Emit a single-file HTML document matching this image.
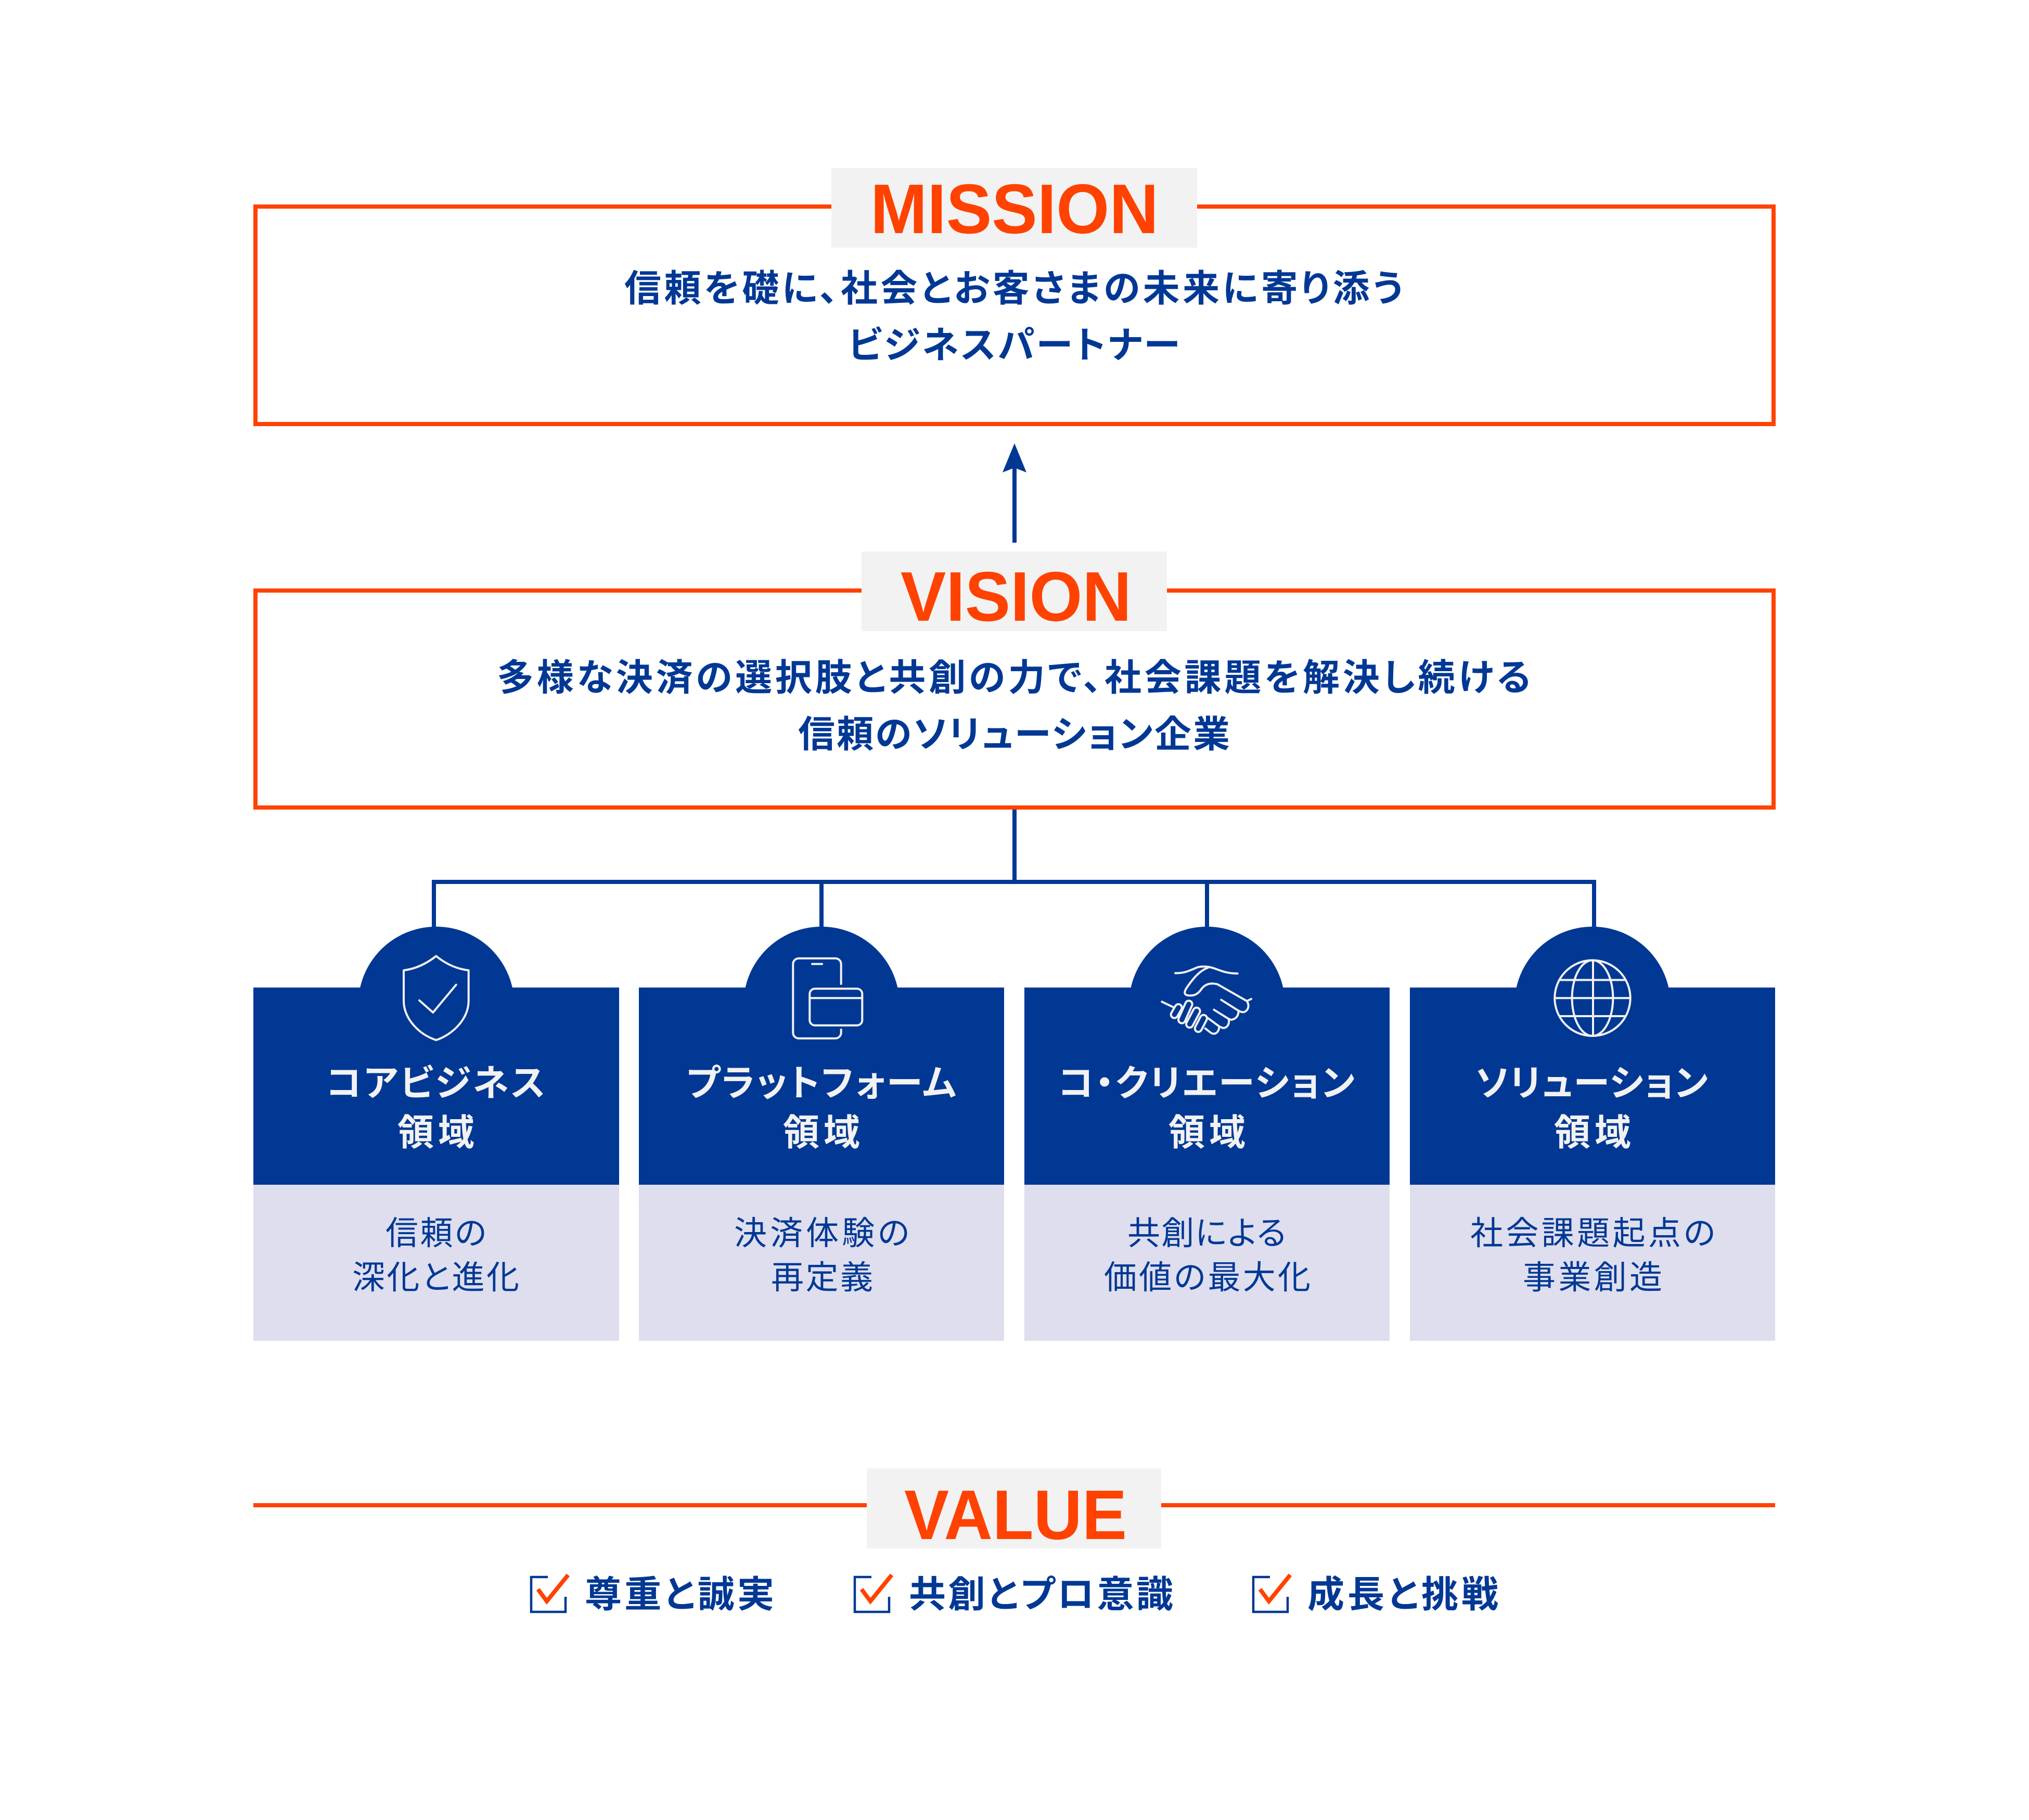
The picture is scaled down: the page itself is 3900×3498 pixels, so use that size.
<!DOCTYPE html>
<html lang="ja"><head><meta charset="utf-8"><title>MISSION VISION VALUE</title>
<style>
html,body{margin:0;padding:0;background:#fff}
svg{display:block}
text{font-family:"Liberation Sans","Noto Sans CJK JP",sans-serif}
.h{font-family:"Liberation Sans",sans-serif;font-weight:700;font-size:135px;fill:#ff4200}
.b{font-weight:700;font-size:71px;fill:#003894;font-feature-settings:"palt"}
.w{font-weight:700;font-size:70px;fill:#f2f2f2;font-feature-settings:"palt"}
.l{font-weight:400;font-size:63px;fill:#003894;font-feature-settings:"palt"}
.ic{fill:none;stroke:#f2f2f2;stroke-width:4;stroke-linecap:round;stroke-linejoin:round}
</style></head><body>
<svg xmlns="http://www.w3.org/2000/svg" width="3900" height="3498" viewBox="0 0 3900 3498">
<rect width="3900" height="3498" fill="#fff"/>

<!-- MISSION -->
<rect x="491" y="397" width="2918" height="418" fill="none" stroke="#ff4200" stroke-width="8"/>
<rect x="1598" y="323" width="703" height="153" fill="#f2f2f2"/>
<text class="h" x="1673" y="448" textLength="554" lengthAdjust="spacingAndGlyphs">MISSION</text>
<text class="b" x="1200" y="579" textLength="1497" lengthAdjust="spacing">信頼を礎に、社会とお客さまの未来に寄り添う</text>
<text class="b" x="1630" y="688" textLength="638" lengthAdjust="spacing">ビジネスパートナー</text>

<!-- Arrow -->
<rect x="1946" y="899" width="8" height="144" fill="#003894"/>
<polygon points="1950,852 1973,908 1950,899 1927,908" fill="#003894"/>

<!-- VISION -->
<rect x="491" y="1135" width="2918" height="417" fill="none" stroke="#ff4200" stroke-width="8"/>
<rect x="1656" y="1060" width="587" height="153" fill="#f2f2f2"/>
<text class="h" x="1731" y="1193" textLength="444" lengthAdjust="spacingAndGlyphs">VISION</text>
<text class="b" x="955" y="1327" textLength="1987" lengthAdjust="spacing">多様な決済の選択肢と共創の力で、社会課題を解決し続ける</text>
<text class="b" x="1534" y="1436" textLength="830" lengthAdjust="spacing">信頼のソリューション企業</text>

<!-- Connectors -->
<g fill="#003894">
<rect x="1946" y="1556" width="8" height="140"/>
<rect x="830" y="1691" width="2238" height="8"/>
<rect x="830" y="1691" width="8" height="95"/>
<rect x="1575" y="1691" width="8" height="95"/>
<rect x="2316" y="1691" width="8" height="95"/>
<rect x="3060" y="1691" width="8" height="95"/>
</g>

<!-- Cards -->
<g fill="#003894">
<rect x="487" y="1898" width="703" height="379"/><circle cx="838.5" cy="1931" r="150"/>
<rect x="1228" y="1898" width="702" height="379"/><circle cx="1579" cy="1931" r="150"/>
<rect x="1969" y="1898" width="702" height="379"/><circle cx="2320" cy="1931" r="150"/>
<rect x="2710" y="1898" width="702" height="379"/><circle cx="3061" cy="1931" r="150"/>
</g>
<g fill="#dedeee">
<rect x="487" y="2277" width="703" height="300"/>
<rect x="1228" y="2277" width="702" height="300"/>
<rect x="1969" y="2277" width="702" height="300"/>
<rect x="2710" y="2277" width="702" height="300"/>
</g>

<!-- Shield -->
<g class="ic">
<path d="M838.3 1837.5C820 1852 800 1862 776 1865V1923C776 1958 805 1988 838.3 1999C871 1988 900.7 1958 900.7 1923V1865C876 1862 856 1852 838.3 1837.5Z"/>
<path d="M806 1922.7L832.3 1946L876.7 1892.7"/>
</g>
<!-- Phone + card -->
<g class="ic">
<path d="M1616.7 1891V1853A11 11 0 0 0 1605.7 1842H1535.3A11 11 0 0 0 1524.3 1853V1984.7A11 11 0 0 0 1535.3 1995.7H1605.7A11 11 0 0 0 1616.7 1984.7V1979"/>
<path d="M1561 1852.7H1580"/>
<rect x="1556.3" y="1900.3" width="101" height="70.4" rx="10"/>
<path d="M1556.3 1918.3H1657.3"/>
</g>
<!-- Handshake -->
<g transform="translate(2140,1780) scale(.33333)">
<g fill="none" stroke="#f2f2f2" stroke-linecap="round" stroke-linejoin="round" stroke-width="12">
<path d="M357 271C420 272 450 250 490 236C530 228 560 235 600 250C640 265 670 273 716 273"/>
<path d="M545 240C500 255 460 300 420 360C405 385 410 400 440 400C470 402 490 390 510 360C530 335 560 325 600 335L770 432C785 455 780 485 755 495C745 498 735 495 722 488"/>
<path d="M622 425L722 488C722 515 710 535 680 540L665 535"/>
<path d="M580 482L665 535C672 565 655 590 630 587L610 578"/>
<path d="M770 432L795 420"/>
<path d="M530 590L565 617C590 628 610 610 610 578L545 530"/>
<path d="M280 436L345 467"/>
</g>
<g stroke-linecap="round">
<path d="M520 532L490 590" stroke="#f2f2f2" stroke-width="52"/><path d="M520 532L490 590" stroke="#003894" stroke-width="28"/>
<path d="M480 490L440 565" stroke="#f2f2f2" stroke-width="52"/><path d="M480 490L440 565" stroke="#003894" stroke-width="28"/>
<path d="M435 450L395 540" stroke="#f2f2f2" stroke-width="52"/><path d="M435 450L395 540" stroke="#003894" stroke-width="28"/>
<path d="M375 470L352 510" stroke="#f2f2f2" stroke-width="52"/><path d="M375 470L352 510" stroke="#003894" stroke-width="28"/>
</g>
</g>
<!-- Globe -->
<g class="ic">
<circle cx="3061" cy="1918.3" r="72.7"/>
<ellipse cx="3061" cy="1918.3" rx="39.4" ry="72.7"/>
<path d="M3062 1846V1991M2988.5 1918.3H3133.5M2999 1883.5H3123M2999 1953H3123"/>
</g>

<!-- Card titles -->
<text class="w" x="627" y="2106" textLength="421" lengthAdjust="spacing">コアビジネス</text>
<text class="w" x="764" y="2201" textLength="148" lengthAdjust="spacing">領域</text>
<text class="w" x="1319" y="2106" textLength="519" lengthAdjust="spacing">プラットフォーム</text>
<text class="w" x="1505" y="2201" textLength="148" lengthAdjust="spacing">領域</text>
<text class="w" x="2034" y="2106" textLength="570" lengthAdjust="spacing">コ・クリエーション</text>
<text class="w" x="2246" y="2201" textLength="148" lengthAdjust="spacing">領域</text>
<text class="w" x="2836" y="2106" textLength="447" lengthAdjust="spacing">ソリューション</text>
<text class="w" x="2987" y="2201" textLength="148" lengthAdjust="spacing">領域</text>

<!-- Card bodies -->
<text class="l" x="741" y="2392" textLength="194" lengthAdjust="spacing">信頼の</text>
<text class="l" x="677" y="2477" textLength="321" lengthAdjust="spacing">深化と進化</text>
<text class="l" x="1411" y="2392" textLength="337" lengthAdjust="spacing">決済体験の</text>
<text class="l" x="1482" y="2477" textLength="196" lengthAdjust="spacing">再定義</text>
<text class="l" x="2167" y="2392" textLength="305" lengthAdjust="spacing">共創による</text>
<text class="l" x="2122" y="2477" textLength="397" lengthAdjust="spacing">価値の最大化</text>
<text class="l" x="2826" y="2392" textLength="471" lengthAdjust="spacing">社会課題起点の</text>
<text class="l" x="2927" y="2477" textLength="268" lengthAdjust="spacing">事業創造</text>

<!-- VALUE -->
<rect x="487" y="2889" width="1180" height="8" fill="#ff4200"/>
<rect x="2232" y="2889" width="1180" height="8" fill="#ff4200"/>
<rect x="1666" y="2822" width="566" height="154" fill="#f2f2f2"/>
<text class="h" x="1738" y="2958" textLength="428" lengthAdjust="spacingAndGlyphs">VALUE</text>

<!-- Check items -->
<g>
<path d="M1053 3031H1021V3098H1087V3069" fill="none" stroke="#003894" stroke-width="4.5"/>
<path d="M1034 3054.5L1051 3077.5L1092 3027" fill="none" stroke="#ff4200" stroke-width="8"/>
</g>
<g transform="translate(622,0)">
<path d="M1053 3031H1021V3098H1087V3069" fill="none" stroke="#003894" stroke-width="4.5"/>
<path d="M1034 3054.5L1051 3077.5L1092 3027" fill="none" stroke="#ff4200" stroke-width="8"/>
</g>
<g transform="translate(1388,0)">
<path d="M1053 3031H1021V3098H1087V3069" fill="none" stroke="#003894" stroke-width="4.5"/>
<path d="M1034 3054.5L1051 3077.5L1092 3027" fill="none" stroke="#ff4200" stroke-width="8"/>
</g>
<text class="b" x="1124" y="3089" textLength="364" lengthAdjust="spacing">尊重と誠実</text>
<text class="b" x="1747" y="3089" textLength="508" lengthAdjust="spacing">共創とプロ意識</text>
<text class="b" x="2513" y="3089" textLength="367" lengthAdjust="spacing">成長と挑戦</text>
</svg>
</body></html>
